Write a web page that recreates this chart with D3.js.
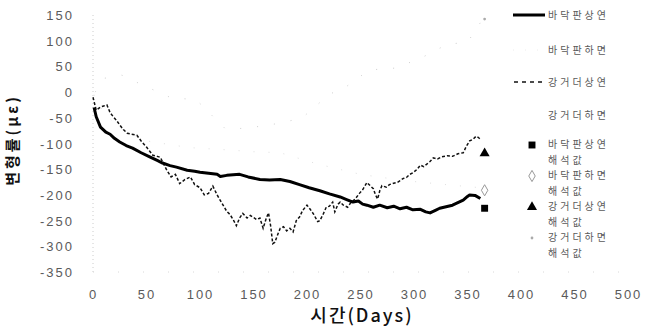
<!DOCTYPE html>
<html>
<head>
<meta charset="utf-8">
<script src="https://cdn.jsdelivr.net/npm/d3@7"></script>
<style>
  html, body { margin: 0; padding: 0; background: #fff; }
  svg { display: block; }
</style>
</head>
<body>
<div id="chart"></div>
<script>
// Strain histories over time (days vs microstrain)
const xTicks = [0, 50, 100, 150, 200, 250, 300, 350, 400, 450, 500];
const yTicks = [150, 100, 50, 0, -50, -100, -150, -200, -250, -300, -350];

const seriesNames = ["바닥판상연", "바닥판하면", "강거더상연", "강거더하면"];
const analysisNames = ["바닥판상연", "바닥판하면", "강거더상연", "강거더하면"];

// 바닥판상연 (slab top) measured
const slabTopDays = [1, 3, 7, 12, 16, 20, 25, 31, 37, 45, 53, 60, 65, 72, 78, 88, 95, 100, 108, 116, 119, 125, 131, 137, 145, 156, 165, 175, 184, 193, 202, 212, 221, 231, 237, 243, 248, 252, 256, 262, 268, 275, 281, 287, 293, 299, 306, 311, 315, 320, 324, 330, 336, 341, 346, 350, 352, 357, 362];
const slabTopValues = [-30, -48, -68, -78, -82, -90, -97, -104, -109, -118, -126, -133, -138, -143, -146, -152, -154, -156, -158, -160, -164, -162, -161, -160, -165, -170, -171, -170, -174, -180, -186, -192, -198, -204, -209, -214, -212, -218, -220, -224, -220, -225, -222, -227, -224, -229, -228, -233, -235, -230, -226, -223, -220, -215, -210, -203, -200, -201, -207];

// 바닥판하면 (slab bottom) measured
const slabBottomDays = [1, 10, 25, 50, 90, 130, 150, 175, 210, 250, 290, 330, 362];
const slabBottomValues = [-5, -40, -70, -95, -108, -113, -116, -118, -140, -160, -172, -180, -186];

// 강거더상연 (girder top) measured
const girderTopDays = [0, 3, 7, 10, 13, 16, 19, 22, 25, 28, 32, 36, 41, 45, 50, 53, 56, 60, 63, 66, 69, 73, 77, 81, 86, 91, 95, 100, 104, 108, 112, 116, 121, 125, 128, 131, 134, 137, 140, 144, 147, 150, 153, 156, 159, 162, 164, 166, 168, 170, 173, 175, 178, 181, 184, 187, 190, 193, 196, 200, 203, 206, 210, 212, 215, 218, 221, 224, 226, 229, 231, 234, 238, 241, 245, 249, 252, 256, 259, 262, 264, 266, 268, 270, 274, 277, 280, 285, 290, 293, 296, 299, 303, 306, 309, 312, 315, 318, 322, 326, 331, 336, 341, 346, 349, 352, 355, 358, 360, 362];
const girderTopValues = [-10, -35, -29, -27, -25, -40, -48, -55, -64, -72, -80, -82, -84, -95, -107, -115, -123, -125, -127, -140, -152, -165, -160, -178, -170, -165, -180, -186, -200, -197, -183, -200, -218, -232, -238, -248, -260, -245, -236, -245, -240, -244, -248, -245, -265, -245, -235, -260, -295, -292, -275, -265, -262, -270, -265, -272, -250, -243, -230, -220, -228, -237, -252, -250, -238, -224, -222, -214, -233, -218, -214, -220, -224, -215, -208, -197, -190, -176, -182, -188, -200, -208, -192, -182, -185, -180, -178, -175, -168, -166, -160, -157, -150, -142, -145, -140, -135, -128, -130, -126, -124, -125, -120, -118, -105, -95, -92, -86, -88, -92];

// 강거더하면 (girder bottom) measured
const girderBottomDays = [2, 11, 27, 45, 74, 96, 124, 145, 170, 195, 221, 235, 258, 284, 310, 331, 350, 362];
const girderBottomValues = [0, 27, 33, 15, -12, -14, -72, -70, -62, -51, -4, 8, 43, 47, 70, 93, 97, 135];

// Analysis values at the final day
const analysisDay = 366;
const analysisValues = [-226, -191, -119, 142];

const width = 647, height = 329;
const x = d3.scaleLinear().domain([0, 500]).range([93, 628]);
const y = d3.scaleLinear().domain([-350, 150]).range([272, 15]);

const svg = d3.select("#chart").append("svg")
  .attr("width", width).attr("height", height);

const font = "'Liberation Sans', 'DejaVu Sans', sans-serif";
const krFont = "'Noto Sans CJK KR', 'Noto Sans', sans-serif";

// faint axis lines
svg.append("line")
  .attr("x1", x(0)).attr("x2", x(0)).attr("y1", y(150)).attr("y2", y(-350))
  .attr("stroke", "#cccccc").attr("stroke-width", 1).attr("stroke-dasharray", "1,3");
svg.append("line")
  .attr("x1", x(0)).attr("x2", x(500)).attr("y1", y(-350)).attr("y2", y(-350))
  .attr("stroke", "#d8d8d8").attr("stroke-width", 1).attr("stroke-dasharray", "1,24");

// y axis ticks
const yAxis = d3.axisLeft(y).tickValues(yTicks).tickSize(0).tickPadding(0)
  .tickFormat(d => String(d));
const gy = svg.append("g").attr("transform", `translate(74,0)`).call(yAxis);
gy.select(".domain").remove();
gy.selectAll("text")
  .attr("font-family", font).attr("font-size", 13).attr("fill", "#5a5a5a")
  .attr("letter-spacing", "2px").attr("dy", "0.35em");

// x axis ticks
const xAxis = d3.axisBottom(x).tickValues(xTicks).tickSize(0).tickPadding(0)
  .tickFormat(d => String(d));
const gx = svg.append("g").attr("transform", `translate(0,290)`).call(xAxis);
gx.select(".domain").remove();
gx.selectAll("text")
  .attr("font-family", font).attr("font-size", 13).attr("fill", "#5a5a5a")
  .attr("letter-spacing", "2px").attr("dy", "0.7em");

// axis titles
svg.append("text")
  .attr("transform", "translate(18,140) rotate(-90)")
  .attr("text-anchor", "middle")
  .attr("font-family", krFont).attr("font-size", 15).attr("font-weight", 700)
  .attr("fill", "#111").attr("letter-spacing", "3px")
  .text("변형률(με)");

svg.append("text")
  .attr("x", 362).attr("y", 322)
  .attr("text-anchor", "middle")
  .attr("font-family", krFont).attr("font-size", 18).attr("font-weight", 500)
  .attr("fill", "#111").attr("letter-spacing", "2px")
  .text("시간(Days)");

const line = d3.line().x(d => x(d[0])).y(d => y(d[1]));
const zip = (a, b) => a.map((d, i) => [d, b[i]]);

// faint lower-surface records
svg.append("path").datum(zip(slabBottomDays, slabBottomValues))
  .attr("d", line).attr("fill", "none")
  .attr("stroke", "#e0e0e0").attr("stroke-width", 1).attr("stroke-dasharray", "1,14");
svg.append("path").datum(zip(girderBottomDays, girderBottomValues))
  .attr("d", line).attr("fill", "none")
  .attr("stroke", "#cfcfcf").attr("stroke-width", 1).attr("stroke-dasharray", "1,16");

// girder top: dashed
svg.append("path").datum(zip(girderTopDays, girderTopValues))
  .attr("d", line).attr("fill", "none")
  .attr("stroke", "#111").attr("stroke-width", 1.5).attr("stroke-dasharray", "3,2");

// slab top: thick solid
svg.append("path").datum(zip(slabTopDays, slabTopValues))
  .attr("d", line).attr("fill", "none")
  .attr("stroke", "#000").attr("stroke-width", 3).attr("stroke-linejoin", "round");

// analysis markers
const sq = d3.symbol().type(d3.symbolSquare).size(48);
const tri = d3.symbol().type(d3.symbolTriangle).size(44);
const dia = d3.symbol().type(d3.symbolDiamond).size(36);
const dot = d3.symbol().type(d3.symbolCircle).size(6);
const markers = [
  { sym: sq, fill: "#000", stroke: "none" },
  { sym: dia, fill: "none", stroke: "#999" },
  { sym: tri, fill: "#000", stroke: "none" },
  { sym: dot, fill: "#aaa", stroke: "none" }
];
analysisValues.forEach((v, i) => {
  svg.append("path")
    .attr("d", markers[i].sym())
    .attr("transform", `translate(${x(analysisDay)},${y(v)})`)
    .attr("fill", markers[i].fill).attr("stroke", markers[i].stroke);
});

// legend
const lg = svg.append("g");
const legendText = (tx, ty, s) => lg.append("text")
  .attr("x", tx).attr("y", ty).attr("dy", "0.35em")
  .attr("font-family", krFont).attr("font-size", 10).attr("fill", "#5a5a5a")
  .attr("letter-spacing", "3px").text(s);

const lineRows = [15, 50, 82, 115];
// samples
lg.append("line").attr("x1", 513).attr("x2", 545).attr("y1", lineRows[0]).attr("y2", lineRows[0])
  .attr("stroke", "#000").attr("stroke-width", 3);
lg.append("line").attr("x1", 513).attr("x2", 545).attr("y1", lineRows[1]).attr("y2", lineRows[1])
  .attr("stroke", "#ececec").attr("stroke-width", 1).attr("stroke-dasharray", "1,11");
lg.append("line").attr("x1", 514).attr("x2", 545).attr("y1", lineRows[2]).attr("y2", lineRows[2])
  .attr("stroke", "#111").attr("stroke-width", 1.5).attr("stroke-dasharray", "4,4");
seriesNames.forEach((s, i) => legendText(548, lineRows[i], s));

const markRows = [145, 176, 207, 238];
analysisNames.forEach((s, i) => {
  lg.append("path").attr("d", markers[i].sym())
    .attr("transform", `translate(532,${markRows[i]})`)
    .attr("fill", markers[i].fill).attr("stroke", markers[i].stroke);
  legendText(548, markRows[i] - 1, s);
  legendText(548, markRows[i] + 15, "해석값");
});
</script>
</body>
</html>
